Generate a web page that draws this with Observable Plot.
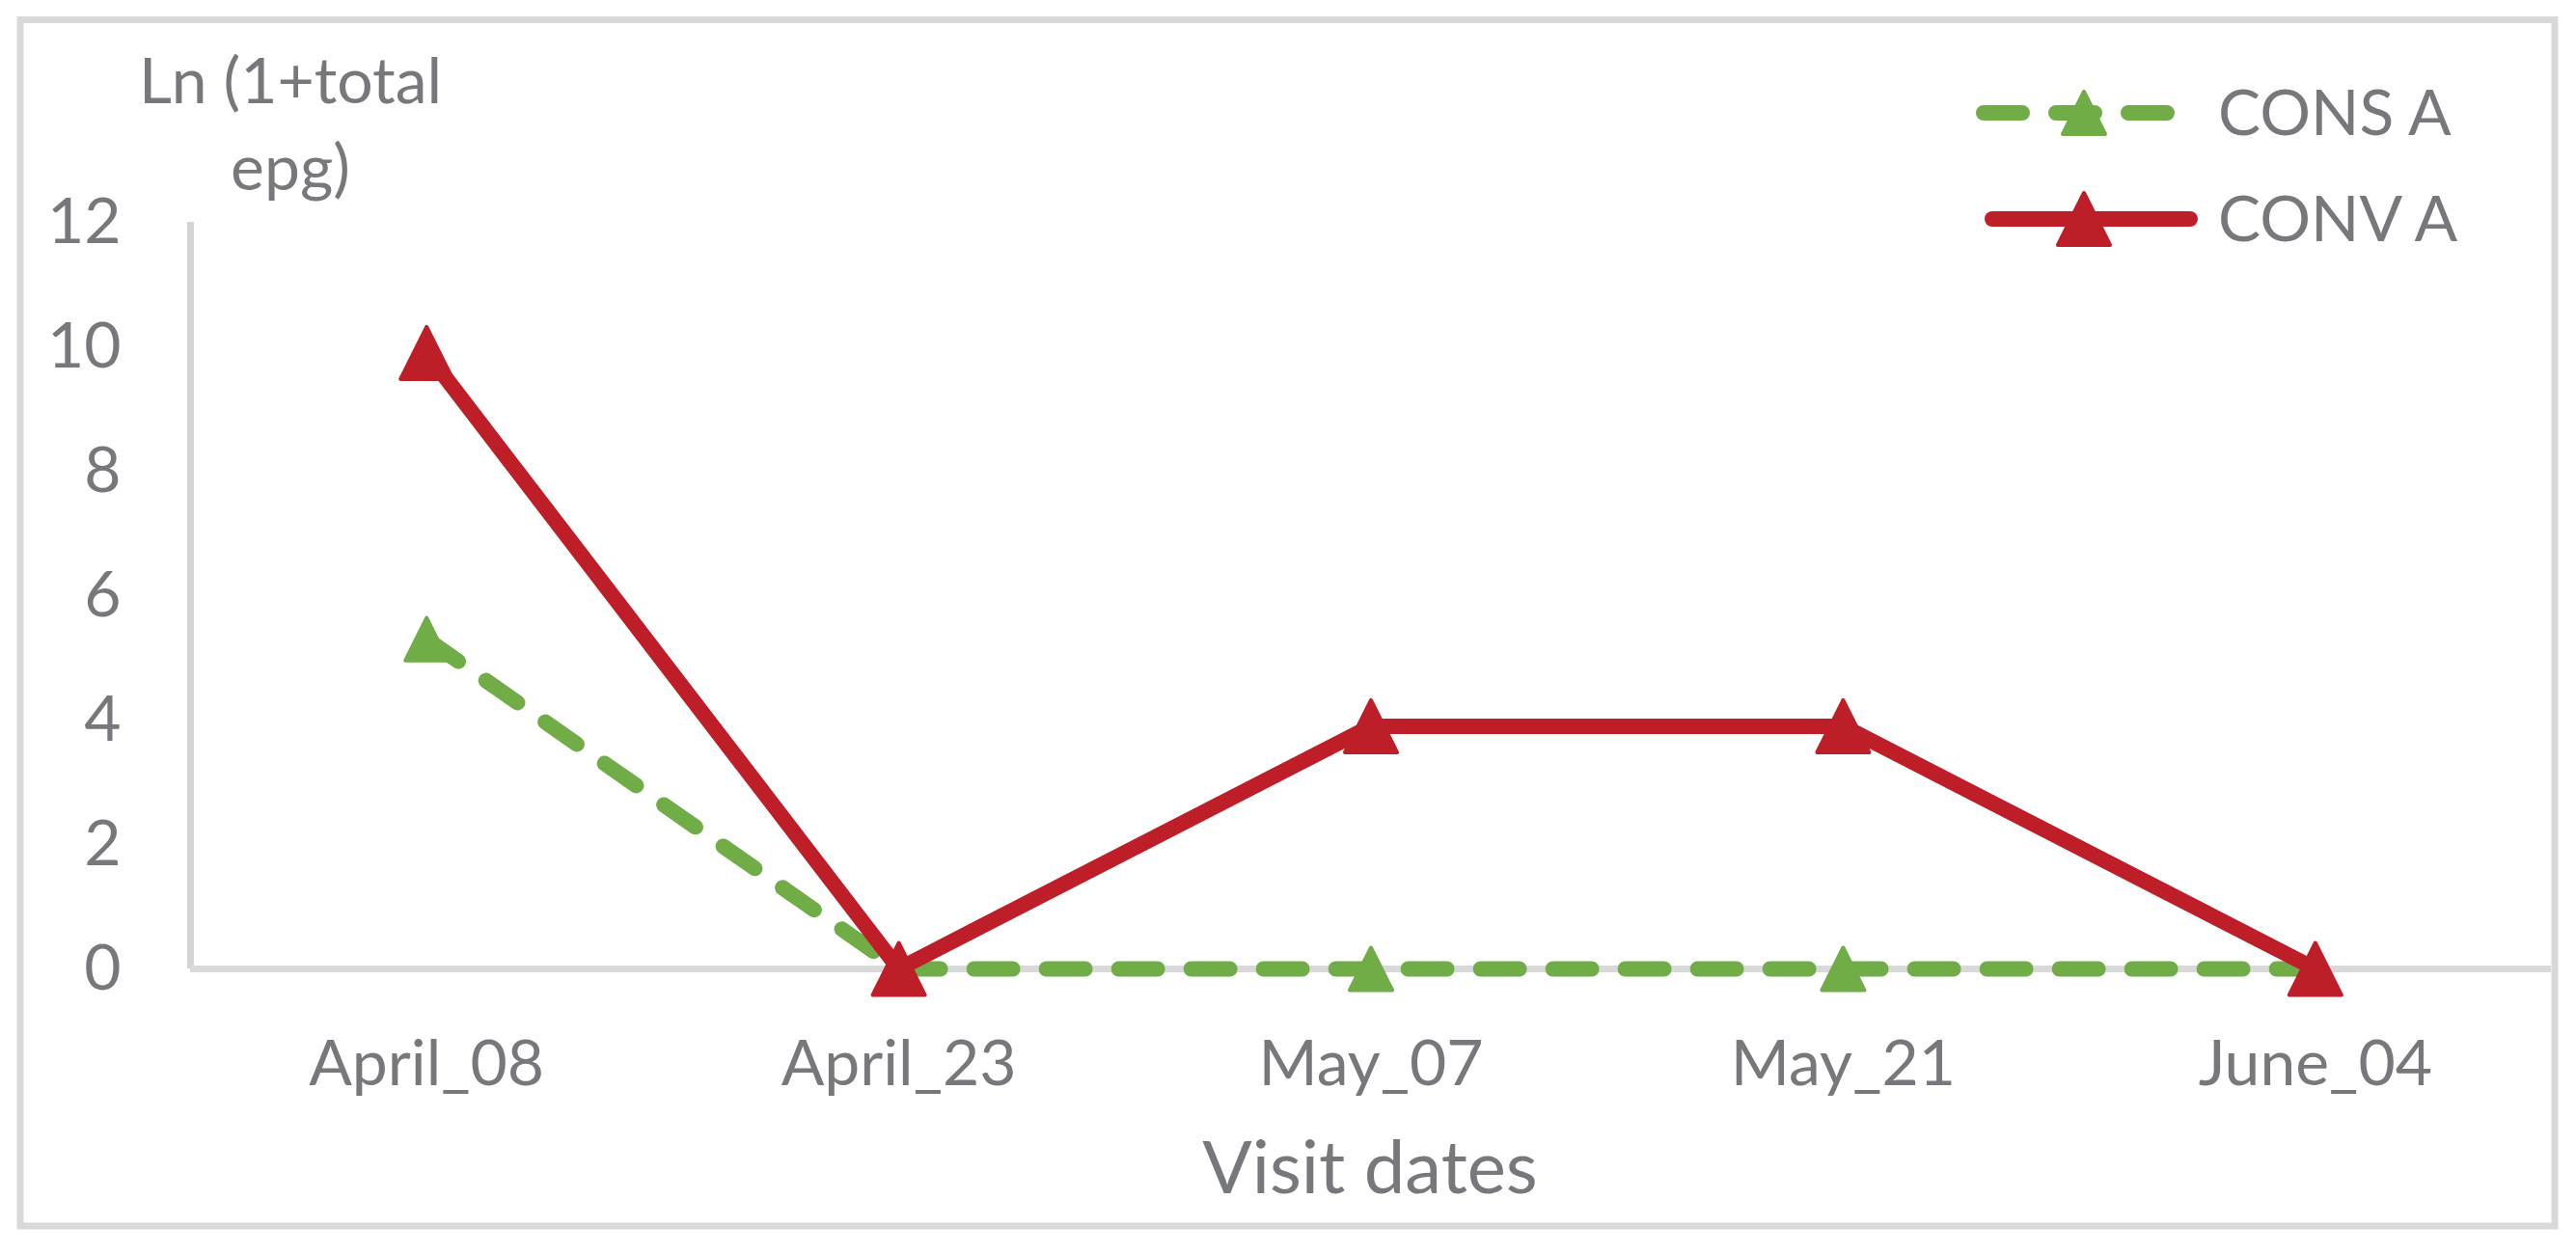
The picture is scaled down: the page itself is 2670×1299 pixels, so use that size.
<!DOCTYPE html>
<html>
<head>
<meta charset="utf-8">
<script src="https://cdn.jsdelivr.net/npm/d3@7"></script>
<script src="https://cdn.jsdelivr.net/npm/@observablehq/plot@0.6"></script>
<style>
  html, body { margin: 0; padding: 0; background: #fff; }
  #chart svg { display: block; }
</style>
</head>
<body>
<div id="chart"></div>
<script>
// ---- data ----
const dates = ["April_08", "April_23", "May_07", "May_21", "June_04"];
const consA = [5.3, 0, 0, 0, 0];
const convA = [9.9, 0, 3.9, 3.9, 0];
const yTicks = [0, 2, 4, 6, 8, 10, 12];
const seriesNames = ["CONS A", "CONV A"];

const green = "#70AD47";
const red = "#BE1E27";
const textGray = "#77787b";

const rows = dates.map((d, i) => ({ i, date: d, cons: consA[i], conv: convA[i] }));

// Excel-like triangle marker (height == base width, centred on bbox)
const tri = {
  draw(context, size) {
    const r = Math.sqrt(size / Math.PI);
    context.moveTo(0, -r);
    context.lineTo(r, r);
    context.lineTo(-r, r);
    context.closePath();
  }
};

const W = 2670, H = 1299;

const svg = Plot.plot({
  width: W,
  height: H,
  marginLeft: 197,
  marginRight: 26,
  marginTop: 230,
  marginBottom: 295,
  style: { fontFamily: "Lato, 'Open Sans', sans-serif", fontSize: "66px", color: textGray, background: "white", overflow: "visible" },
  x: { type: "linear", domain: [-0.5, dates.length - 0.5], nice: false },
  y: { domain: [0, 12], nice: false },
  marks: [
    Plot.ruleX([-0.5], { y1: 0, y2: 12, stroke: "#d4d4d4", strokeWidth: 7 }),
    Plot.ruleY([0], { stroke: "#d9d9d9", strokeWidth: 7 }),
    Plot.axisY({ ticks: yTicks, tickSize: 0, tickPadding: 72, label: null, fill: textGray, fontSize: 66 }),
    Plot.axisX({ ticks: d3.range(dates.length), tickFormat: i => dates[i], tickSize: 0, tickPadding: 74, label: null, fill: textGray, fontSize: 66 }),
    Plot.line(rows, { x: "i", y: "cons", stroke: green, strokeWidth: 16, strokeLinecap: "round", strokeLinejoin: "round", strokeDasharray: "40,35" }),
    Plot.dot(rows, { x: "i", y: "cons", symbol: tri, r: 22, fill: green, stroke: green, strokeWidth: 4, strokeLinejoin: "round" }),
    Plot.line(rows, { x: "i", y: "conv", stroke: red, strokeWidth: 16, strokeLinecap: "round", strokeLinejoin: "round" }),
    Plot.dot(rows, { x: "i", y: "conv", symbol: tri, r: 27, fill: red, stroke: red, strokeWidth: 4, strokeLinejoin: "round" })
  ]
});

const s = d3.select(svg);

// outer chart border
s.insert("rect", ":first-child")
  .attr("x", 21).attr("y", 20.5).attr("width", 2627).attr("height", 1250.5)
  .attr("fill", "none").attr("stroke", "#d9d9d9").attr("stroke-width", 7);

// y axis title (two lines)
const yt = s.append("text")
  .attr("text-anchor", "middle").attr("fill", textGray)
  .attr("font-family", "Lato, sans-serif").attr("font-size", 66);
yt.append("tspan").attr("x", 301).attr("y", 107).text("Ln (1+total");
yt.append("tspan").attr("x", 301).attr("y", 197).text("epg)");

// x axis title
s.append("text")
  .attr("x", 1420).attr("y", 1237)
  .attr("text-anchor", "middle").attr("fill", textGray)
  .attr("font-family", "Lato, sans-serif").attr("font-size", 76)
  .text("Visit dates");

// legend
const legend = [
  { name: seriesNames[0], color: green, dash: "40,35", r: 22, y: 117, ty: 140, x1: 2056, x2: 2250 },
  { name: seriesNames[1], color: red, dash: null, r: 27, y: 227, ty: 250, x1: 2065, x2: 2270 }
];
const lg = s.append("g");
legend.forEach(l => {
  lg.append("line")
    .attr("x1", l.x1).attr("x2", l.x2).attr("y1", l.y).attr("y2", l.y)
    .attr("stroke", l.color).attr("stroke-width", 16).attr("stroke-linecap", "round")
    .attr("stroke-dasharray", l.dash);
  const sym = d3.symbol(tri, Math.PI * l.r * l.r)();
  lg.append("path")
    .attr("d", sym).attr("transform", `translate(2160,${l.y})`)
    .attr("fill", l.color).attr("stroke", l.color).attr("stroke-width", 4).attr("stroke-linejoin", "round");
  lg.append("text")
    .attr("x", 2299).attr("y", l.ty).attr("fill", textGray)
    .attr("text-anchor", "start")
    .attr("font-family", "Lato, sans-serif").attr("font-size", 66)
    .text(l.name);
});

document.getElementById("chart").appendChild(svg);
</script>
</body>
</html>
